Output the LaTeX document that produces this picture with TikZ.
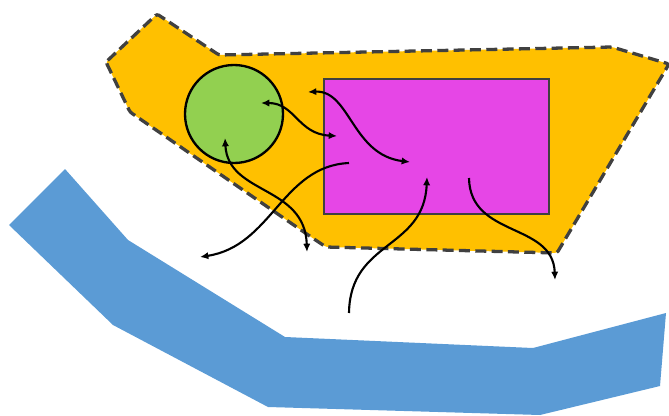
\documentclass[tikz,border=0pt]{standalone}
\usepackage{tikz}
\usetikzlibrary{arrows.meta,positioning}
\definecolor{zone}{HTML}{FFC000}
\definecolor{river}{HTML}{5B9BD5}
\definecolor{plant}{HTML}{E646E6}
\definecolor{pond}{HTML}{92D050}
\definecolor{rim}{HTML}{404040}
\begin{document}
\begin{tikzpicture}[x=0.03cm,y=-0.03cm,
  flow/.style={black,line width=1.8pt,-{Latex[length=2.5mm,width=2.2mm]}},
  flowboth/.style={flow,{Latex[length=2.5mm,width=2.2mm]}-{Latex[length=2.5mm,width=2.2mm]}}]
\useasboundingbox (0,0) rectangle (669,415);
% dashed zone round everything
\draw[fill=zone,draw=rim,line width=2.8pt,dash pattern=on 3.3mm off 1.6mm,rounded corners=2pt]
  (106,62) -- (157,14) -- (219,55) -- (612,47) -- (669,64) -- (557,253)
  -- (326,247) -- (314,239) -- (130,112) -- cycle;
% river band
\fill[river] (65,169) -- (128,240) -- (285,337) -- (533,348) -- (666,313)
  -- (660,386) -- (540,415) -- (268,407) -- (113,325) -- (9,225) -- cycle;
% the two inner parts
\node[draw=rim,line width=1.7pt,fill=plant,minimum width=6.75cm,minimum height=4.05cm,
      inner sep=0pt] (box) at (436.5,146.5) {};
\node[circle,draw=black,line width=2pt,fill=pond,minimum size=2.94cm,inner sep=0pt]
  (cell) at (234,114) {};
% arrow ends
\coordinate (c1) at (261,103);  \coordinate (b1) at (337,136);
\coordinate (b2) at (308,92);   \coordinate (b3) at (410,162);
\coordinate (b4) at (349,163);  \coordinate (o1) at (200,257);
\coordinate (c2) at (225,138);  \coordinate (o2) at (307,252);
\coordinate (o3) at (349,313);  \coordinate (b5) at (427,177);
\coordinate (b6) at (469,178);  \coordinate (o4) at (555,280);
% flows
\draw[flowboth] (c1) .. controls (295,103) and (298,134) .. (b1);
\draw[flowboth] (b2) .. controls (350,90) and (352,155) .. (b3);
\draw[flow] (b4) .. controls (282,166) and (272,246) .. (o1);
\draw[flowboth] (c2) .. controls (228,195) and (305,185) .. (o2);
\draw[flow] (o3) .. controls (350,240) and (424,250) .. (b5);
\draw[flow] (b6) .. controls (470,238) and (553,222) .. (o4);
\end{tikzpicture}
\end{document}
